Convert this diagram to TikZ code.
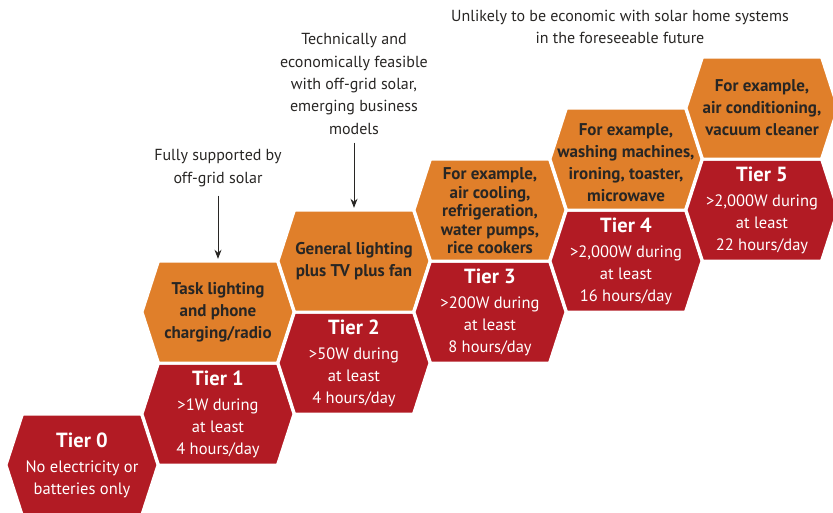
\documentclass[tikz,border=0pt]{standalone}
\usepackage{fontspec}
\setmainfont{PT Sans}
\usetikzlibrary{arrows.meta}
\definecolor{tierred}{RGB}{178,27,36}
\definecolor{tierorange}{RGB}{224,127,42}
\definecolor{darktext}{RGB}{40,38,36}
\newcommand\hexcell[3]{%
  \filldraw[fill=#3, draw=white, line width=3pt, line join=miter, shift={(#1,#2)}]
    (-76,0) -- (-59.5,-51) -- (59.5,-51) -- (76,0) -- (59.5,51) -- (-59.5,51) -- cycle;}
\tikzset{
  tiertext/.style={text=white, align=center, inner sep=0pt, minimum width=118pt,
    minimum height=98pt, font=\fontsize{16.5}{22}\selectfont},
  usetext/.style={text=darktext, align=center, inner sep=0pt, minimum width=118pt,
    minimum height=98pt, font=\fontsize{17}{22}\selectfont\bfseries},
  annot/.style={text=darktext, align=center, inner sep=0pt, font=\fontsize{16}{22.3}\selectfont},
  arr/.style={draw=darktext, line width=0.9pt, -{Stealth[length=9pt,width=7pt]}}
}
\newcommand\tierlabel[1]{{\fontsize{20.5}{22}\selectfont\bfseries Tier #1}\\[3pt]}
\begin{document}
\begin{tikzpicture}[x=1pt,y=-1pt]
\useasboundingbox (0,0) rectangle (833,512);
% hexagons
\hexcell{82}{465}{tierred}
\hexcell{218}{414}{tierred}
\hexcell{218}{312}{tierorange}
\hexcell{354}{363}{tierred}
\hexcell{354}{261}{tierorange}
\hexcell{490}{312}{tierred}
\hexcell{490}{210}{tierorange}
\hexcell{626}{261}{tierred}
\hexcell{626}{159}{tierorange}
\hexcell{762}{210}{tierred}
\hexcell{762}{108}{tierorange}
% tier texts
\node[tiertext] (t0) at (82,465) {\tierlabel{0}No electricity or\\batteries only};
\node[tiertext] (t1) at (218,414) {\tierlabel{1}>1W during\\at least\\4 hours/day};
\node[tiertext] (t2) at (354,363) {\tierlabel{2}>50W during\\at least\\4 hours/day};
\node[tiertext] (t3) at (490,312) {\tierlabel{3}>200W during\\at least\\8 hours/day};
\node[tiertext] (t4) at (626,261) {\tierlabel{4}>2,000W during\\at least\\16 hours/day};
\node[tiertext] (t5) at (762,210) {\tierlabel{5}>2,000W during\\at least\\22 hours/day};
% use texts
\node[usetext] (u1) at (218,312) {Task lighting\\and phone\\charging/radio};
\node[usetext] (u2) at (354,261) {General lighting\\plus TV plus fan};
\node[usetext, font=\fontsize{17}{18.5}\selectfont\bfseries] (u3) at (490,211) {For example,\\air cooling,\\refrigeration,\\water pumps,\\rice cookers};
\node[usetext] (u4) at (626,163) {For example,\\washing machines,\\ironing, toaster,\\microwave};
\node[usetext] (u5) at (762,108) {For example,\\air conditioning,\\vacuum cleaner};
% annotations
\node[annot] (a1) at (218,168) {Fully supported by\\off-grid solar};
\node[annot] (a2) at (354,84) {Technically and\\economically feasible\\with off-grid solar,\\emerging business\\models};
\node[annot] (a3) at (620,27) {Unlikely to be economic with solar home systems\\in the foreseeable future};
% arrows
\draw[arr, shorten <=9pt, shorten >=4pt] (a1) -- (u1);
\draw[arr, shorten <=8pt, shorten >=4pt] (a2) -- (u2);
\end{tikzpicture}
\end{document}
